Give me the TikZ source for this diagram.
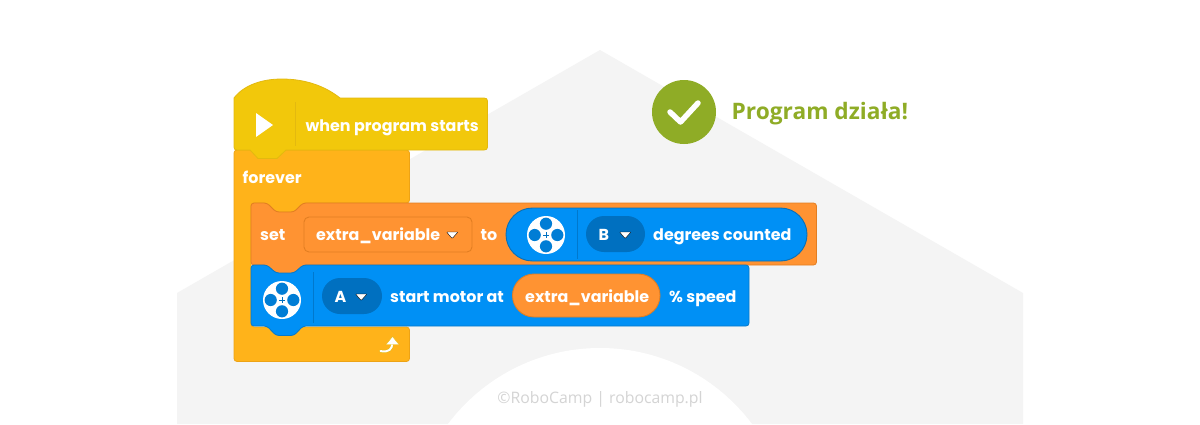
\documentclass[tikz,border=0pt]{standalone}
\usepackage{fontspec}
\setmainfont{Open Sans}
\newfontfamily\blockfont{Poppins}
\newfontfamily\headfont{Open Sans}
\definecolor{bgrey}{HTML}{F4F4F4}
\definecolor{hatY}{HTML}{F2C80B}
\definecolor{hatE}{HTML}{E3B90F}
\definecolor{ctrlO}{HTML}{FFB31A}
\definecolor{ctrlE}{HTML}{EDA315}
\definecolor{varO}{HTML}{FF9332}
\definecolor{varE}{HTML}{E27E22}
\definecolor{motB}{HTML}{0090F5}
\definecolor{motE}{HTML}{0A6FB5}
\definecolor{motD}{HTML}{0070C0}
\definecolor{okG}{HTML}{8FAC26}
\tikzset{
  blocktext/.style={text=white,inner sep=0pt,anchor=base west,font=\blockfont\bfseries\fontsize{15.9}{17}\selectfont},
  blockedge/.style={line width=0.8pt,rounded corners=3pt},
  pill/.style={rounded corners=#1},
  tri/.style={fill=white,rounded corners=0.8pt},
  sep/.style={line width=0.7pt},
}
\newcommand{\wheelicon}[2]{%
  \fill[white] (#1,#2) circle[radius=19];
  \foreach \dx/\dy in {11.3/0,-11.3/0,0/11.3,0/-11.3}
    \fill[motD!60!motB] (#1+\dx,#2+\dy) circle[radius=6.1];
  \draw[motD,line width=0.8pt] (#1-3,#2) -- (#1+3,#2) (#1,#2-3) -- (#1,#2+3);
}
\begin{document}
\begin{tikzpicture}[x=1pt,y=-1pt]
\useasboundingbox (0,0) rectangle (1200,424);
\fill[white] (0,0) rectangle (1200,424);
% background house
\begin{scope}
\clip (0,0) rectangle (1200,424);
\fill[bgrey] (177,424) -- (177,293) -- (600,50) -- (1023,293) -- (1023,424) -- cycle;
\fill[white] (600,538) circle[radius=190];
\end{scope}
% forever block
\draw[blockedge,fill=ctrlO,draw=ctrlE] (234,150) -- (409.5,150) -- (409.5,203) -- (303,203) -- (294,212) -- (276,212) -- (267,203) -- (251,203) -- (251,327) -- (409.5,327) -- (409.5,361.5) -- (234,361.5) -- cycle;
% hat block
\draw[line width=0.8pt,fill=hatY,draw=hatE,line join=round]
  (234,147) -- (234,98) .. controls (244,85) and (262,79) .. (282,79)
  .. controls (305,79) and (325,86) .. (340,98) -- (484,98)
  .. controls (486.5,98) and (487.5,99) .. (487.5,101) -- (487.5,147)
  .. controls (487.5,149) and (486.5,150) .. (484,150) -- (286,150) -- (277,158.5) -- (258,158.5) -- (250,150) -- (237,150)
  .. controls (235,150) and (234,149) .. (234,147) -- cycle;
\draw[hatE,sep] (295,102) -- (295,146);
\fill[white] (256,113) -- (273,125) -- (256,137) -- cycle;
\node[blocktext] (when) at (305.5,131) {when program starts};
\node[blocktext] (forever) at (242.5,183) {forever};
% set block
\draw[blockedge,fill=varO,draw=varE]
  (251,203) -- (267,203) -- (276,212) -- (294,212) -- (303,203) -- (816.5,203) -- (816.5,265) -- (303,265) -- (294,273) -- (276,273) -- (267,265) -- (251,265) -- cycle;
\node[blocktext] (set) at (260,240) {set};
\draw[varE,line width=0.9pt,fill=varO,pill=5pt] (304,217) rectangle (472,252);
\node[blocktext] (var1) at (316,240) {extra\_variable};
\draw[tri] (446.5,232) -- (458,232) -- (452.2,238.5) -- cycle;
\node[blocktext] (to) at (480.5,240) {to};
% degrees reporter
\draw[motE,line width=0.9pt,fill=motB,pill=26.5pt] (506,208) rectangle (807,261);
\wheelicon{546}{235}
\draw[motD!75!motB,sep] (577,210) -- (577,259);
\fill[motD,pill=18pt] (586,216) rectangle (645,252);
\node[blocktext] (b) at (598.5,240) {B};
\draw[tri] (619.5,232) -- (631,232) -- (625.2,238.5) -- cycle;
\node[blocktext] (deg) at (653,240) {degrees counted};
% motor block
\fill[varO] (267,265) -- (276,273) -- (294,273) -- (303,265) -- cycle;
\draw[blockedge,fill=motB,draw=motE!70!motB,even odd rule]
  (251,265) -- (267,265) -- (276,273) -- (294,273) -- (303,265) -- (749,265) -- (749,326) -- (303,326) -- (294,335.5) -- (276,335.5) -- (267,326) -- (251,326) -- cycle;
\wheelicon{282}{300}
\draw[motD!75!motB,sep] (313,272) -- (313,323);
\fill[motD,pill=18pt] (322,278) rectangle (382,314);
\node[blocktext] (a) at (334.5,302) {A};
\draw[tri] (355.5,294) -- (367,294) -- (361.2,300.5) -- cycle;
\node[blocktext] (start) at (390,302) {start motor at};
\draw[varE,line width=0.9pt,fill=varO,pill=21.5pt] (512.5,274) rectangle (660,317);
\node[blocktext] (var2) at (525,302) {extra\_variable};
\node[blocktext] (speed) at (669,302) {\% speed};
% loop arrow
\draw[line cap=round,hatE,line width=3pt] (380.5,351) .. controls (388,353) and (393,349) .. (392,343);
\draw[line cap=round,white,line width=2pt] (380.5,351) .. controls (388,353) and (393,349) .. (392,343);
\fill[white,draw=hatE,line width=0.4pt] (392.5,336.5) -- (399,344.5) -- (386,344.5) -- cycle;
% result
\fill[okG] (684,112) circle[radius=32];
\draw[white,line width=5.5pt,line cap=round,line join=round] (670,112) -- (680.5,122) -- (698,103);
\node[text=okG,inner sep=0pt,anchor=base west,font=\headfont\bfseries\fontsize{22.7}{26}\selectfont] (ok) at (731.5,119.5) {Program działa!};
% footer
\node[text=black!17,inner sep=0pt,font=\fontsize{15.8}{18}\selectfont] (foot) at (600,399) {©RoboCamp | robocamp.pl};
\end{tikzpicture}
\end{document}
